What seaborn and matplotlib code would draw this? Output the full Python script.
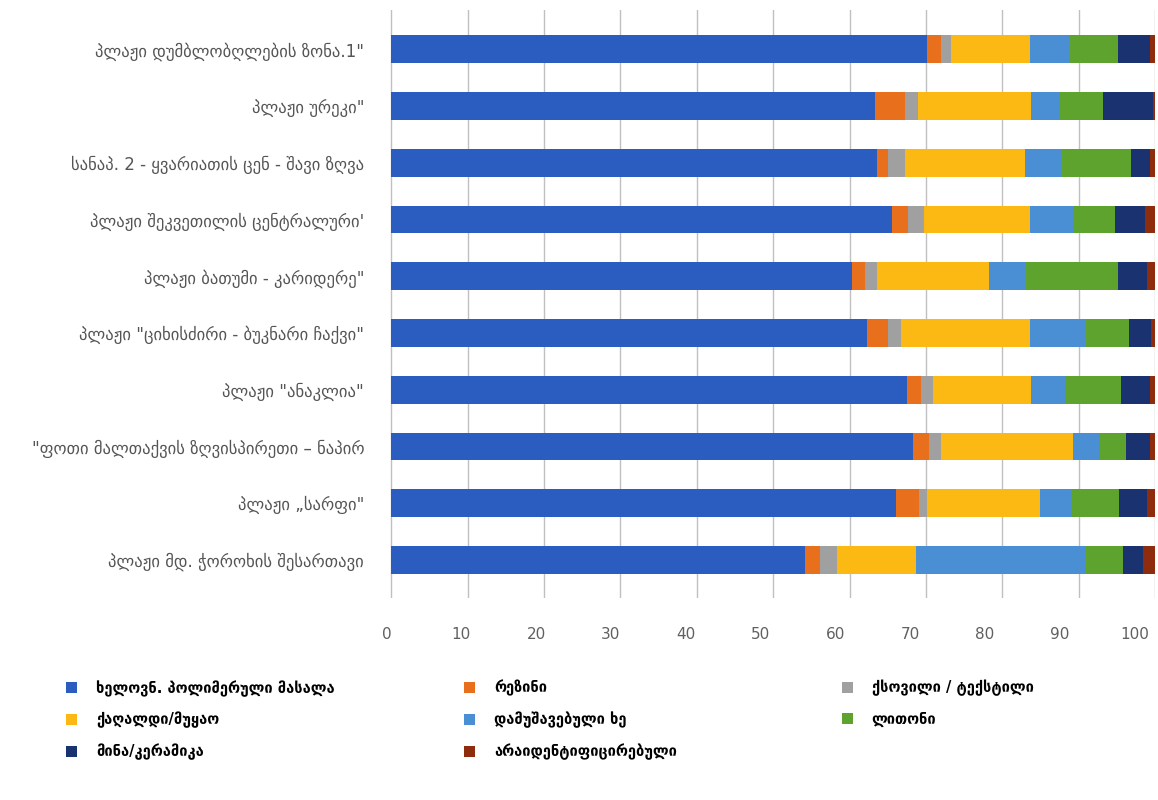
import numpy as np
import pandas as pd
import seaborn as sns
import matplotlib.pyplot as plt
from matplotlib.patches import Patch

# beaches, top to bottom
beaches = [
    'პლაჟი დუმბლობღლების ზონა.1"',
    'პლაჟი ურეკი"',
    'სანაპ. 2 - ყვარიათის ცენ - შავი ზღვა',
    'პლაჟი შეკვეთილის ცენტრალური\'',
    'პლაჟი ბათუმი - კარიდერე"',
    'პლაჟი "ციხისძირი - ბუკნარი ჩაქვი"',
    'პლაჟი "ანაკლია"',
    '"ფოთი მალთაქვის ზღვისპირეთი – ნაპირ',
    'პლაჟი „სარფი"',
    'პლაჟი მდ. ჭოროხის შესართავი',
]

categories = [
    'ხელოვნ. პოლიმერული მასალა',
    'რეზინი',
    'ქსოვილი / ტექსტილი',
    'ქაღალდი/მუყაო',
    'დამუშავებული ხე',
    'ლითონი',
    'მინა/კერამიკა',
    'არაიდენტიფიცირებული',
]

polymer  = [70.1, 63.4, 63.6, 65.5, 60.3, 62.3, 67.5, 68.3, 66.1, 54.2]
rubber   = [1.9, 3.8, 1.4, 2.1, 1.7, 2.7, 1.9, 2.1, 3.0, 1.9]
textile  = [1.3, 1.8, 2.2, 2.2, 1.6, 1.7, 1.5, 1.6, 1.0, 2.2]
paper    = [10.3, 14.7, 15.8, 13.8, 14.6, 16.9, 12.8, 17.3, 14.8, 10.4]
wood     = [5.3, 3.8, 4.8, 5.7, 4.9, 7.3, 4.5, 3.4, 4.2, 22.2]
metal    = [6.2, 5.7, 9.1, 5.5, 12.0, 5.7, 7.4, 3.5, 6.2, 4.9]
glass    = [4.2, 6.5, 2.4, 3.9, 3.9, 2.9, 3.7, 3.1, 3.7, 2.6]
unknown  = [0.7, 0.3, 0.7, 1.3, 1.0, 0.5, 0.7, 0.7, 1.0, 1.6]

colors = ['#2b5cbf', '#e8701c', '#a0a0a0', '#fdb913',
          '#4a8fd4', '#5ea32e', '#1b3270', '#8e2c0e']

df = pd.DataFrame(
    dict(zip(categories, [polymer, rubber, textile, paper, wood, metal, glass, unknown])),
    index=beaches)
cum = df.cumsum(axis=1)

fig = plt.figure(figsize=(11.58, 8.0), dpi=100)
ax = fig.add_axes([0.3325, 0.2525, 0.665, 0.735])

# stacked bars: draw cumulative totals from the last layer down to the first
for cat, col in reversed(list(zip(categories, colors))):
    sns.barplot(x=cum[cat].values, y=beaches, color=col, saturation=1,
                width=0.49, orient='h', ax=ax, edgecolor='none')

ax.set_xlim(-0.8, 100)
ax.set_ylim(9.67, -0.69)
ax.set_xticks(np.arange(0, 101, 10))
ax.grid(axis='x', color='#c0c0c0', linewidth=1)
ax.set_axisbelow(True)
for s in ax.spines.values():
    s.set_visible(False)
ax.tick_params(axis='x', length=0, labelbottom=False)
ax.tick_params(axis='y', length=0, pad=15, labelsize=12, labelcolor='#555555')
ax.set_xlabel('')
ax.set_ylabel('')

# value labels sit on the slightly compressed front edge of the 3d floor
sec = ax.secondary_xaxis('bottom', functions=(lambda x: (x + 0.6) / 0.979,
                                               lambda s: s * 0.979 - 0.6))
sec.set_xticks(np.arange(0, 101, 10))
sec.set_xticklabels([str(v) for v in range(0, 101, 10)])
sec.tick_params(length=0, pad=21, labelsize=11, labelcolor='#606060')
for s in sec.spines.values():
    s.set_visible(False)

# legend laid out row by row like the original, one column at a time
handles = [Patch(facecolor=c, edgecolor='none') for c in colors]
col_x = [0.057, 0.401, 0.727]
for j, x0 in enumerate(col_x):
    idx = list(range(j, len(categories), 3))
    fig.legend([handles[i] for i in idx], [categories[i] for i in idx],
               loc='upper left', bbox_to_anchor=(x0, 0.15),
               frameon=False, handlelength=0.75, handleheight=0.75,
               handletextpad=1.3, labelspacing=1.05, borderpad=0,
               borderaxespad=0, prop={'size': 10.5, 'weight': 'bold'})

fig.savefig('out.png', dpi=100, facecolor='white')
